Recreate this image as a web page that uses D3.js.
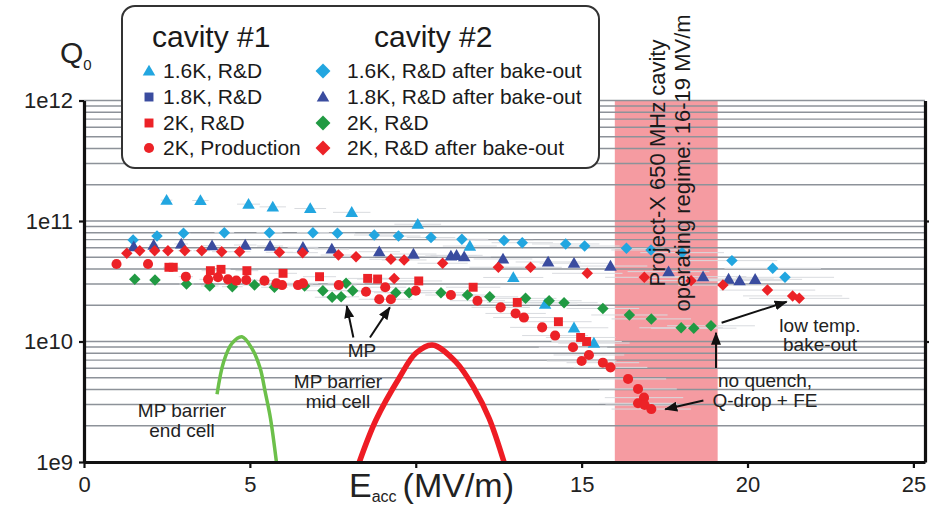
<!DOCTYPE html>
<html lang="en">
<head>
<meta charset="UTF-8">
<title>Q0 vs Eacc</title>
<style>
    body { margin: 0; background: #fff; }
    svg { display: block; font-family: "Liberation Sans", Arial, sans-serif; }
</style>
</head>
<body>
<script src="https://cdn.jsdelivr.net/npm/d3@7/dist/d3.min.js"></script>
<script>
    // ---- data (Eacc in MV/m, Q0) ----
    // cavity #1
    var c1_16_E = [2.49, 3.51, 4.96, 5.69, 6.82, 8.07, 10.06, 11.63, 12.94, 13.9, 14.77, 15.37];
    var c1_16_Q = [1.49e11, 1.48e11, 1.38e11, 1.31e11, 1.27e11, 1.18e11, 9.4e10, 6.2e10, 3.4e10, 2.04e10, 1.3e10, 9.7e9];
    var c1_18_E = [];
    var c1_18_Q = [];
    var c1_2rd_E = [2.56, 2.69, 3.81, 4.13, 4.91, 6.0, 7.1, 8.55, 8.85, 10.09, 11.73, 13.06, 14.3, 14.97, 15.15];
    var c1_2rd_Q = [4.13e10, 4.13e10, 3.87e10, 3.97e10, 3.87e10, 3.68e10, 3.45e10, 3.34e10, 3.3e10, 3.18e10, 2.82e10, 2.11e10, 1.46e10, 1.08e10, 1.0e10];
    var c1_2pr_E = [0.98, 1.93, 3.07, 3.74, 4.04, 4.34, 4.59, 4.89, 5.44, 5.8, 5.97, 6.45, 6.6, 7.68, 8.5, 8.9, 9.08, 9.25, 10.0, 11.06, 11.86, 12.56, 13.01, 13.26, 13.81, 14.2, 14.74, 15.0, 15.22, 15.64, 15.87, 16.4, 16.7, 16.88, 16.7, 16.9, 17.1];
    var c1_2pr_Q = [4.4e10, 4.4e10, 3.45e10, 3.28e10, 3.41e10, 3.28e10, 3.2e10, 3.24e10, 3.2e10, 3.04e10, 2.94e10, 2.94e10, 3.04e10, 2.94e10, 2.59e10, 2.24e10, 2.82e10, 2.24e10, 2.64e10, 2.43e10, 2.18e10, 1.92e10, 1.71e10, 1.58e10, 1.31e10, 1.12e10, 8.95e9, 6.89e9, 7.73e9, 6.67e9, 6.1e9, 4.89e9, 4.04e9, 3.42e9, 3.07e9, 2.97e9, 2.75e9];
    // cavity #2
    var c2_16b_E = [1.48, 2.2, 3.0, 4.23, 5.59, 6.9, 7.64, 8.75, 9.48, 10.46, 11.39, 12.66, 13.21, 14.52, 15.09, 16.35, 17.09, 18.03, 19.53, 20.76, 21.13];
    var c2_16b_Q = [6.95e10, 7.5e10, 7.9e10, 8.0e10, 8.0e10, 8.0e10, 7.9e10, 7.65e10, 7.5e10, 7.3e10, 7.05e10, 6.9e10, 6.6e10, 6.45e10, 6.2e10, 5.93e10, 5.75e10, 5.46e10, 4.69e10, 4.05e10, 3.41e10];
    var c2_18b_E = [1.5, 2.1, 2.93, 3.86, 4.86, 5.61, 6.6, 7.47, 8.9, 9.93, 11.06, 11.23, 11.46, 12.63, 13.99, 14.77, 15.87, 17.62, 18.66, 19.43, 19.76, 20.23];
    var c2_18b_Q = [6.12e10, 6.32e10, 6.45e10, 6.24e10, 6.32e10, 6.2e10, 6.05e10, 5.86e10, 5.56e10, 5.32e10, 5.13e10, 5.19e10, 5.06e10, 4.84e10, 4.57e10, 4.46e10, 4.23e10, 3.8e10, 3.45e10, 3.3e10, 3.2e10, 3.28e10];
    var c2_2rd_E = [1.53, 2.14, 3.09, 3.79, 4.47, 5.14, 5.74, 6.65, 7.2, 7.48, 7.75, 7.9, 8.1, 9.4, 9.8, 10.76, 11.56, 12.23, 13.31, 14.02, 14.47, 15.64, 16.44, 17.1, 18.0, 18.38, 18.9];
    var c2_2rd_Q = [3.28e10, 3.24e10, 3.0e10, 2.89e10, 2.85e10, 2.94e10, 2.82e10, 2.89e10, 2.64e10, 2.33e10, 2.35e10, 3.04e10, 2.64e10, 2.54e10, 2.54e10, 2.54e10, 2.43e10, 2.35e10, 2.28e10, 2.18e10, 2.1e10, 1.88e10, 1.66e10, 1.54e10, 1.3e10, 1.29e10, 1.35e10];
    var c2_2rdb_E = [1.29, 1.68, 2.13, 2.53, 3.04, 3.55, 4.15, 4.69, 5.89, 6.59, 7.67, 8.2, 9.25, 9.35, 9.65, 10.81, 12.49, 13.46, 15.17, 16.89, 18.3, 19.26, 20.6, 21.36, 21.56];
    var c2_2rdb_Q = [5.4e10, 5.67e10, 5.67e10, 5.67e10, 5.67e10, 5.67e10, 5.56e10, 5.56e10, 5.5e10, 5.46e10, 5.22e10, 5.06e10, 4.81e10, 3.34e10, 4.75e10, 4.46e10, 4.13e10, 4.13e10, 3.68e10, 3.41e10, 3.2e10, 2.94e10, 2.67e10, 2.39e10, 2.28e10];

    // multipacting barrier curves
    var endCell_E = [4.01, 4.21, 4.46, 4.76, 5.06, 5.31, 5.46, 5.62, 5.8];
    var endCell_Q = [3.65e9, 6.8e9, 9.66e9, 1.096e10, 8.77e9, 6.0e9, 3.83e9, 2.31e9, 1.0e9];
    var midCell_E = [8.3, 8.8, 9.5, 10.0, 10.5, 11.2, 11.76, 12.21, 12.66];
    var midCell_Q = [1.0e9, 2.23e9, 4.98e9, 7.98e9, 9.35e9, 6.8e9, 4.09e9, 2.31e9, 1.0e9];

    // operating regime band (MV/m), as drawn
    var bandE = [16, 19.1];

    // ticks
    var xTicks = [0, 5, 10, 15, 20, 25];
    var xTickLabels = ["0", "5", "", "15", "20", "25"];
    var yTicks = [1e9, 1e10, 1e11, 1e12];
    var yTickLabels = ["1e9", "1e10", "1e11", "1e12"];

    var zip = function (E, Q) { return E.map(function (e, i) { return {e: e, q: Q[i]}; }); };

    var lightBlue = "#22a6e0", darkBlue = "#3a4c9f", red = "#ec2227", green = "#219a43";

    var series = [
        {name: "1.6K, R&D", data: zip(c1_16_E, c1_16_Q), shape: "tri", color: lightBlue, col: 0, row: 0},
        {name: "1.8K, R&D", data: zip(c1_18_E, c1_18_Q), shape: "sq", color: darkBlue, col: 0, row: 1},
        {name: "1.6K, R&D after bake-out", data: zip(c2_16b_E, c2_16b_Q), shape: "dia", color: lightBlue, col: 1, row: 0},
        {name: "1.8K, R&D after bake-out", data: zip(c2_18b_E, c2_18b_Q), shape: "tri", color: darkBlue, col: 1, row: 1},
        {name: "2K, R&D", data: zip(c2_2rd_E, c2_2rd_Q), shape: "dia", color: green, col: 1, row: 2},
        {name: "2K, Production", data: zip(c1_2pr_E, c1_2pr_Q), shape: "circ", color: red, col: 0, row: 3},
        {name: "2K, R&D", data: zip(c1_2rd_E, c1_2rd_Q), shape: "sq", color: red, col: 0, row: 2},
        {name: "2K, R&D after bake-out", data: zip(c2_2rdb_E, c2_2rdb_Q), shape: "dia", color: red, col: 1, row: 3}
    ];

    var width = 940, height = 508;

    var x = d3.scaleLinear().domain([0, 25.35]).range([84, 925]);
    var y = d3.scaleLog().domain([1e9, 1e12]).range([462, 100.5]);

    var svg = d3.select("body").append("svg")
        .attr("width", width)
        .attr("height", height);

    var defs = svg.append("defs");
    defs.append("marker")
        .attr("id", "arrow")
        .attr("markerUnits", "userSpaceOnUse")
        .attr("markerWidth", 14).attr("markerHeight", 10)
        .attr("refX", 12).attr("refY", 5)
        .attr("orient", "auto")
        .append("path")
        .attr("d", "M0,0 L13,5 L0,10 z")
        .attr("fill", "#111");

    // operating regime band
    svg.append("rect")
        .attr("x", x(bandE[0]))
        .attr("y", y(1e12))
        .attr("width", x(bandE[1]) - x(bandE[0]))
        .attr("height", y(1e9) - y(1e12))
        .attr("fill", "#f59ba1");

    // log grid lines
    var grid = [];
    [1e9, 1e10, 1e11].forEach(function (dec) {
        for (var m = 1; m < 10; m++) grid.push(m * dec);
    });
    grid.push(1e12);
    svg.append("g").selectAll("line")
        .data(grid)
        .join("line")
            .attr("x1", x.range()[0]).attr("x2", x.range()[1])
            .attr("y1", function (d) { return y(d); })
            .attr("y2", function (d) { return y(d); })
            .attr("stroke", "#8d9299")
            .attr("stroke-width", 1.4);

    // faint error bars
    var errFrac = 0.07;
    series.forEach(function (s) {
        svg.append("g").selectAll("line")
            .data(s.data)
            .join("line")
                .attr("x1", function (d) { return x(d.e * (1 - errFrac)); })
                .attr("x2", function (d) { return x(d.e * (1 + errFrac)); })
                .attr("y1", function (d) { return y(d.q); })
                .attr("y2", function (d) { return y(d.q); })
                .attr("stroke", "#d9dbdf")
                .attr("stroke-width", 1);
    });

    // multipacting curves
    var line = d3.line()
        .x(function (d) { return x(d.e); })
        .y(function (d) { return y(d.q); })
        .curve(d3.curveCatmullRom);
    svg.append("path")
        .attr("d", line(zip(endCell_E, endCell_Q)))
        .attr("fill", "none")
        .attr("stroke", "#6cc04a")
        .attr("stroke-width", 3.5);
    svg.append("path")
        .attr("d", line(zip(midCell_E, midCell_Q)))
        .attr("fill", "none")
        .attr("stroke", "#ee1c24")
        .attr("stroke-width", 5.5);

    // marker shapes
    var symbolPath = function (shape) {
        if (shape === "tri") return d3.symbol(d3.symbolTriangle, 68)();
        if (shape === "sq") return d3.symbol(d3.symbolSquare, 80)();
        if (shape === "dia") return d3.symbol(d3.symbolSquare, 66)();
        return d3.symbol(d3.symbolCircle, 80)();
    };
    var symbolRot = function (shape) { return shape === "dia" ? " rotate(45)" : ""; };

    series.forEach(function (s) {
        svg.append("g").selectAll("path")
            .data(s.data)
            .join("path")
                .attr("d", symbolPath(s.shape))
                .attr("transform", function (d) {
                    return "translate(" + x(d.e) + "," + (y(d.q) + (s.shape === "tri" ? 1 : 0)) + ")" + symbolRot(s.shape);
                })
                .attr("fill", s.color);
    });

    // axes
    var xAxis = d3.axisBottom(x).tickValues(xTicks)
        .tickFormat(function (d, i) { return xTickLabels[i]; })
        .tickSizeInner(6).tickSizeOuter(0).tickPadding(8);
    var yAxis = d3.axisLeft(y).tickValues(yTicks)
        .tickFormat(function (d, i) { return yTickLabels[i]; })
        .tickSizeInner(5).tickSizeOuter(0).tickPadding(6);
    var yAxisR = d3.axisRight(y).tickValues(yTicks.slice(1, 3))
        .tickFormat("").tickSizeInner(4).tickSizeOuter(0);

    var gx = svg.append("g").attr("transform", "translate(0," + y(1e9) + ")").call(xAxis);
    var gy = svg.append("g").attr("transform", "translate(" + x(0) + ",0)").call(yAxis);
    var gr = svg.append("g").attr("transform", "translate(" + x.range()[1] + ",0)").call(yAxisR);
    [gx, gy, gr].forEach(function (g) {
        g.select(".domain").attr("stroke", "#111").attr("stroke-width", 3.2);
        g.selectAll(".tick line").attr("stroke", "#111").attr("stroke-width", 2.2);
        g.selectAll(".tick text")
            .attr("fill", "#222")
            .style("font-size", "22px")
            .style("font-family", "'Liberation Sans', Arial, sans-serif");
    });

    // axis titles
    var qLabel = svg.append("text").attr("x", 60).attr("y", 63).attr("fill", "#222").style("font-size", "30px");
    qLabel.append("tspan").text("Q");
    qLabel.append("tspan").attr("dy", 7).style("font-size", "15px").text("0");

    var eLabel = svg.append("text").attr("x", 349).attr("y", 497).attr("fill", "#222").style("font-size", "34px");
    eLabel.append("tspan").text("E");
    eLabel.append("tspan").attr("dy", 5).style("font-size", "16px").text("acc");
    eLabel.append("tspan").attr("dy", -5).attr("dx", 6).text("(MV/m)");

    // band label
    svg.append("g")
        .attr("transform", "translate(665,163) rotate(-90)")
        .selectAll("text")
        .data(["Project-X 650 MHz cavity", "operating regime: 16-19 MV/m"])
        .join("text")
            .attr("x", 0)
            .attr("y", function (d, i) { return i * 25; })
            .attr("text-anchor", "middle")
            .attr("fill", "#1a1a1a")
            .style("font-size", "22px")
            .text(function (d) { return d; });

    // legend
    var leg = svg.append("g");
    leg.append("rect")
        .attr("x", 122).attr("y", 6)
        .attr("width", 477).attr("height", 162)
        .attr("rx", 13)
        .attr("fill", "#fff")
        .attr("stroke", "#333")
        .attr("stroke-width", 2);
    leg.append("text").attr("x", 152).attr("y", 47).attr("fill", "#1a1a1a").style("font-size", "30px").text("cavity #1");
    leg.append("text").attr("x", 374).attr("y", 47).attr("fill", "#1a1a1a").style("font-size", "30px").text("cavity #2");

    var colX = [149, 323], rowY = [71, 97, 123, 148];
    series.forEach(function (s) {
        leg.append("path")
            .attr("d", symbolPath(s.shape))
            .attr("transform", "translate(" + colX[s.col] + "," + (rowY[s.row] + (s.shape === "tri" ? 1 : 0)) + ")" + symbolRot(s.shape) +
                (s.shape === "dia" ? " scale(1.3)" : ""))
            .attr("fill", s.color);
        leg.append("text")
            .attr("x", colX[s.col] + (s.col === 0 ? 14 : 24))
            .attr("y", rowY[s.row] + 7)
            .attr("fill", "#1a1a1a")
            .style("font-size", "21px")
            .text(s.name);
    });

    // annotations
    var note = function (cx, lines, y0, dy) {
        svg.append("g").selectAll("text")
            .data(lines)
            .join("text")
                .attr("x", cx)
                .attr("y", function (d, i) { return y0 + i * dy; })
                .attr("text-anchor", "middle")
                .attr("fill", "#222")
                .style("font-size", "19px")
                .text(function (d) { return d; });
    };
    note(182, ["MP barrier", "end cell"], 417, 20);
    note(338, ["MP barrier", "mid cell"], 388, 20);
    note(362, ["MP"], 357, 0);
    note(820, ["low temp.", "bake-out"], 332, 19);
    note(765, ["no quench,", "Q-drop + FE"], 387, 20);

    var arrows = [
        [[8.12, 1.08e10], [7.92, 1.97e10]],
        [[8.62, 1.08e10], [9.22, 1.92e10]],
        [[19.22, 1.43e10], [21.18, 2.14e10]],
        [[19.05, 6.03e9], [19.05, 1.18e10]],
        [[18.67, 3.24e9], [17.52, 2.74e9]]
    ];
    svg.append("g").selectAll("line")
        .data(arrows)
        .join("line")
            .attr("x1", function (d) { return x(d[0][0]); })
            .attr("y1", function (d) { return y(d[0][1]); })
            .attr("x2", function (d) { return x(d[1][0]); })
            .attr("y2", function (d) { return y(d[1][1]); })
            .attr("stroke", "#111")
            .attr("stroke-width", 2)
            .attr("marker-end", "url(#arrow)");
</script>
</body>
</html>
